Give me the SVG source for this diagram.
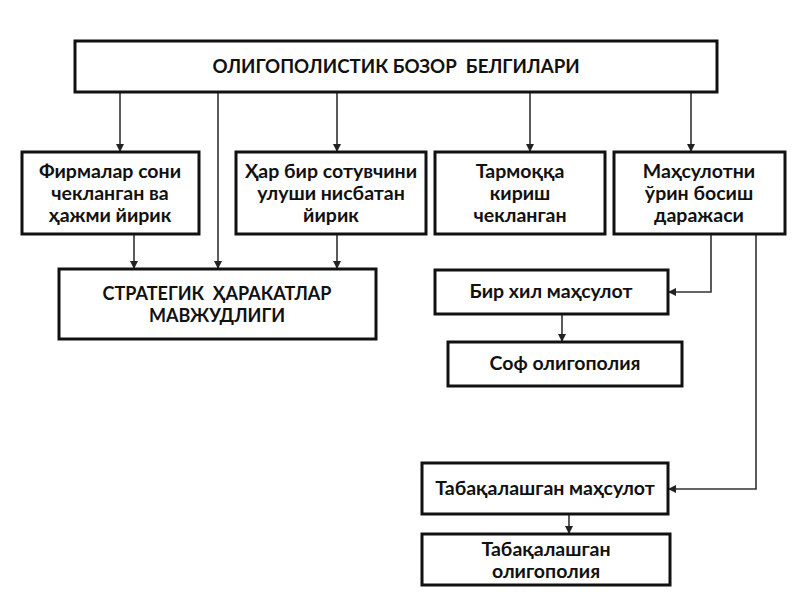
<svg xmlns="http://www.w3.org/2000/svg" width="800" height="600" viewBox="0 0 800 600">
<style>
.box{fill:#fff;stroke:#111;stroke-width:3}
.t{font-family:Lato,"Open Sans","Noto Sans",sans-serif;font-weight:bold;font-size:19.5px;fill:#111;text-anchor:middle;white-space:pre}
.caps{font-size:18px}
.head{font-size:18.7px}
.c{fill:none;stroke:#333;stroke-width:1.6}
</style>
<defs>
<marker id="ah" viewBox="0 0 10 10" refX="10" refY="5" markerWidth="8" markerHeight="8" markerUnits="userSpaceOnUse" orient="auto">
<path d="M0,0 L10,5 L0,10 Z" fill="#222"/>
</marker>
</defs>
<rect width="800" height="600" fill="#fff"/>
<g id="connectors">
<line class="c" x1="120" y1="92" x2="120" y2="152" marker-end="url(#ah)"/>
<line class="c" x1="218" y1="92" x2="218" y2="269" marker-end="url(#ah)"/>
<line class="c" x1="337" y1="92" x2="337" y2="152" marker-end="url(#ah)"/>
<line class="c" x1="530" y1="92" x2="530" y2="152" marker-end="url(#ah)"/>
<line class="c" x1="691" y1="92" x2="691" y2="152" marker-end="url(#ah)"/>
<line class="c" x1="134" y1="234" x2="134" y2="269" marker-end="url(#ah)"/>
<line class="c" x1="337" y1="234" x2="337" y2="269" marker-end="url(#ah)"/>
<polyline class="c" points="711,234 711,292 668,292" marker-end="url(#ah)"/>
<line class="c" x1="562" y1="314" x2="562" y2="342" marker-end="url(#ah)"/>
<polyline class="c" points="756,234 756,489 668,489" marker-end="url(#ah)"/>
<line class="c" x1="569" y1="514" x2="569" y2="534" marker-end="url(#ah)"/>
</g>
<g id="top">
<rect class="box" x="75" y="41" width="642" height="51"/>
<text class="t head" x="396" y="73">ОЛИГОПОЛИСТИК БОЗОР  БЕЛГИЛАРИ</text>
</g>
<g id="firms">
<rect class="box" x="22" y="152" width="177" height="82"/>
<text class="t" x="110" y="178">Фирмалар сони</text>
<text class="t" x="110" y="200">чекланган ва</text>
<text class="t" x="110" y="222">ҳажми йирик</text>
</g>
<g id="share">
<rect class="box" x="236" y="152" width="190" height="82"/>
<text class="t" x="331" y="178">Ҳар бир сотувчини</text>
<text class="t" x="331" y="200">улуши нисбатан</text>
<text class="t" x="331" y="222">йирик</text>
</g>
<g id="entry">
<rect class="box" x="435" y="152" width="170" height="82"/>
<text class="t" x="520" y="178">Тармоққа</text>
<text class="t" x="520" y="200">кириш</text>
<text class="t" x="520" y="222">чекланган</text>
</g>
<g id="substitution">
<rect class="box" x="614" y="152" width="171" height="82"/>
<text class="t" x="699" y="178">Маҳсулотни</text>
<text class="t" x="699" y="200">ўрин босиш</text>
<text class="t" x="699" y="222">даражаси</text>
</g>
<g id="strategic">
<rect class="box" x="59" y="269" width="317" height="70"/>
<text class="t caps" x="217" y="300">СТРАТЕГИК  ҲАРАКАТЛАР</text>
<text class="t caps" x="217" y="322">МАВЖУДЛИГИ</text>
</g>
<g id="homogeneous">
<rect class="box" x="435" y="270" width="233" height="44"/>
<text class="t" x="551" y="298">Бир хил маҳсулот</text>
</g>
<g id="pure">
<rect class="box" x="448" y="342" width="234" height="44"/>
<text class="t" x="565" y="370">Соф олигополия</text>
</g>
<g id="differentiated">
<rect class="box" x="422" y="463" width="246" height="51"/>
<text class="t" x="545" y="495">Табақалашган маҳсулот</text>
</g>
<g id="diffoligopoly">
<rect class="box" x="422" y="534" width="248" height="51"/>
<text class="t" x="546" y="556">Табақалашган</text>
<text class="t" x="546" y="578">олигополия</text>
</g>
</svg>
